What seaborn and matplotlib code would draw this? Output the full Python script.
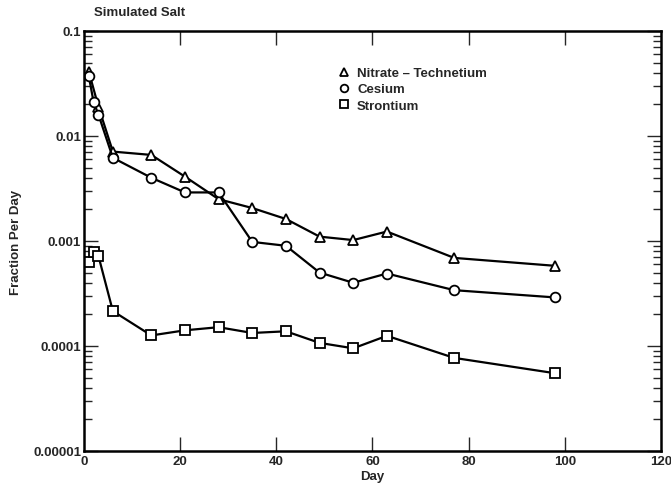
import matplotlib
matplotlib.use("Agg")
import matplotlib.pyplot as plt
import seaborn as sns
import pandas as pd
import numpy as np
from matplotlib.ticker import FixedLocator, LogLocator, NullFormatter

sns.set_style("white")
plt.rcParams['font.family'] = ['Liberation Sans', 'DejaVu Sans']
plt.rcParams['font.weight'] = 'bold'
plt.rcParams['axes.labelweight'] = 'bold'

nitrate_day = [1, 3, 6, 14, 21, 28, 35, 42, 49, 56, 63, 77, 98]
nitrate_val = [0.041, 0.019, 0.0071, 0.0066, 0.0041, 0.0025, 0.00206, 0.00162,
               0.0011, 0.00102, 0.00123, 0.00069, 0.00058]

cesium_day = [1, 2, 3, 6, 14, 21, 28, 35, 42, 49, 56, 63, 77, 98]
cesium_val = [0.037, 0.021, 0.016, 0.0062, 0.0040, 0.0029, 0.0029, 0.00098,
              0.00090, 0.00050, 0.00040, 0.00049, 0.00034, 0.00029]

strontium_day = [1, 2, 3, 6, 14, 21, 28, 35, 42, 49, 56, 63, 77, 98]
strontium_val = [0.00063, 0.00079, 0.00072, 0.000215, 0.000126, 0.000141,
                 0.000151, 0.000133, 0.000138, 0.000107, 0.000095, 0.000125,
                 0.000077, 0.000055]

series_names = ["Nitrate \u2013 Technetium", "Cesium", "Strontium"]
x_ticks = [0, 20, 40, 60, 80, 100, 120]
y_ticks = [0.00001, 0.0001, 0.001, 0.01, 0.1]
y_tick_labels = ["0.00001", "0.0001", "0.001", "0.01", "0.1"]

FS = 9.5

fig = plt.figure(figsize=(6.71, 4.89), dpi=100)
ax = fig.add_axes([0.1252, 0.0757, 0.8598, 0.8589])

markers = ["^", "o", "s"]
data = [(nitrate_day, nitrate_val), (cesium_day, cesium_val), (strontium_day, strontium_val)]
for (d, v), name, m in zip(data, series_names, markers):
    df = pd.DataFrame({"Day": d, "Value": v})
    sns.lineplot(data=df, x="Day", y="Value", ax=ax, color="black", linewidth=1.6,
                 marker=m, markersize=7, markerfacecolor="white",
                 markeredgecolor="black", markeredgewidth=1.3, label=name)

ax.set_yscale("log")
ax.set_xlim(0, 120)
ax.set_ylim(0.00001, 0.1)
ax.set_xticks(x_ticks)
ax.set_xticklabels([str(t) for t in x_ticks], fontsize=FS)
ax.yaxis.set_major_locator(FixedLocator(y_ticks))
ax.set_yticklabels(y_tick_labels, fontsize=FS)
ax.yaxis.set_minor_locator(LogLocator(base=10, subs=np.arange(2, 10)))
ax.yaxis.set_minor_formatter(NullFormatter())

ax.tick_params(axis="x", which="major", direction="in", length=10, width=1,
               top=True, bottom=True, pad=3)
ax.tick_params(axis="y", which="major", direction="in", length=10, width=1,
               left=True, right=True, pad=2)
ax.tick_params(axis="y", which="minor", direction="in", length=6, width=1,
               left=True, right=True)

for t in (ax.xaxis.get_major_ticks()[0], ax.xaxis.get_major_ticks()[-1]):
    t.tick1line.set_visible(False)
    t.tick2line.set_visible(False)

for s in ax.spines.values():
    s.set_linewidth(1.8)
    s.set_color("black")

ax.set_xlabel("Day", fontsize=FS, labelpad=2, fontweight="bold")
ax.set_ylabel("Fraction Per Day", fontsize=FS, labelpad=8, fontweight="bold")
ax.text(0.018, 1.03, "Simulated Salt", transform=ax.transAxes, fontsize=FS,
        ha="left", va="bottom", fontweight="bold")

leg = ax.legend(loc="upper left", bbox_to_anchor=(0.43, 0.93), frameon=False,
                fontsize=FS, handlelength=0.8, handletextpad=0.6,
                labelspacing=0.3, borderpad=0)
for h in leg.legend_handles:
    h.set_linestyle("none")
    h.set_markersize(5.5)

fig.savefig("out.png", dpi=100)
